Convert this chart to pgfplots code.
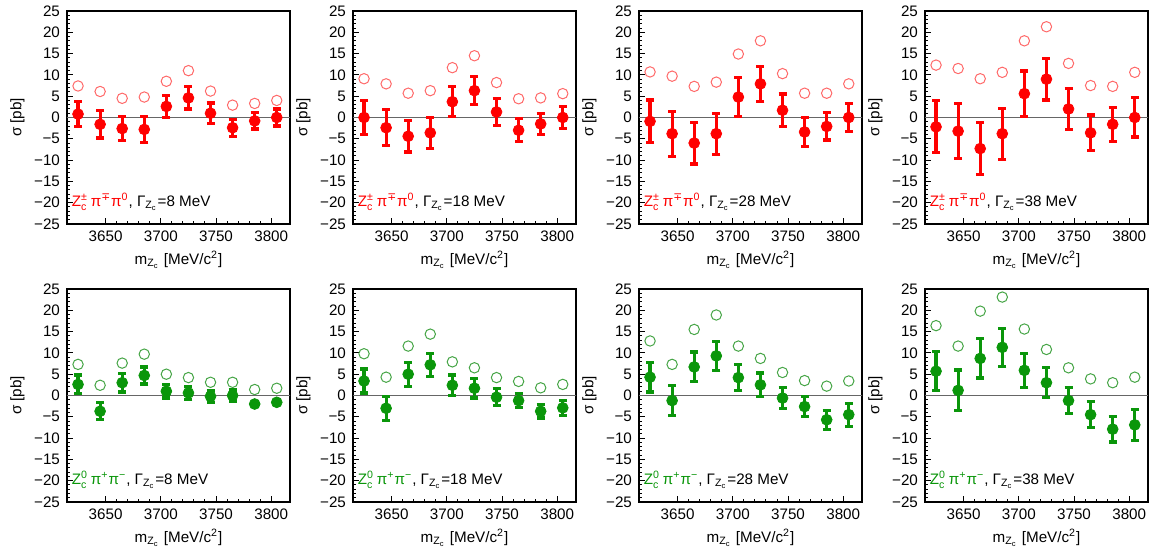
\documentclass[border=0pt]{standalone}
\usepackage{amsmath}
\usepackage{fontspec}
\setmainfont{Liberation Sans}
\newfontfamily\dejavu{DejaVu Sans}
\usepackage{pgfplots}
\usepackage{pgfplotstable}
\pgfplotsset{compat=1.18}
\usepgfplotslibrary{groupplots}

\definecolor{zred}{RGB}{255,0,0}
\definecolor{zredo}{RGB}{255,105,105}
\definecolor{zgreen}{RGB}{10,150,10}
\definecolor{zgreeno}{RGB}{70,165,70}

% columns: mass, sigma, error, upper limit
\pgfplotstableread{
x y e u
3625 0.8 2.9 7.4
3645 -1.6 3.2 6.1
3665 -2.6 2.8 4.5
3685 -2.8 3.0 4.8
3705 2.6 2.6 8.5
3725 4.6 2.6 11.0
3745 1.0 2.4 6.2
3765 -2.4 2.0 2.9
3785 -0.8 1.9 3.3
3805 0.0 2.0 4.0
}\redA
\pgfplotstableread{
x y e u
3625 0.0 4.0 9.1
3645 -2.4 4.2 7.9
3665 -4.4 3.7 5.7
3685 -3.6 3.6 6.3
3705 3.7 3.5 11.7
3725 6.3 3.3 14.5
3745 1.3 3.2 8.2
3765 -3.0 2.7 4.4
3785 -1.5 2.5 4.6
3805 0.0 2.5 5.6
}\redB
\pgfplotstableread{
x y e u
3625 -0.9 5.0 10.7
3645 -3.8 5.3 9.7
3665 -6.0 4.9 7.3
3685 -3.8 4.8 8.3
3705 4.8 4.5 14.9
3725 7.9 4.1 18.0
3745 1.7 3.8 10.3
3765 -3.4 3.4 5.7
3785 -2.1 3.2 5.7
3805 0.0 3.3 7.9
}\redC
\pgfplotstableread{
x y e u
3625 -2.2 6.1 12.3
3645 -3.2 6.5 11.5
3665 -7.3 6.1 9.1
3685 -3.8 6.0 10.6
3705 5.6 5.3 18.0
3725 9.0 4.9 21.3
3745 2.0 4.8 12.7
3765 -3.6 4.2 7.5
3785 -1.6 4.0 7.3
3805 0.0 4.6 10.6
}\redD
\pgfplotstableread{
x y e u
3625 2.6 2.2 7.3
3645 -3.7 2.0 2.4
3665 3.0 2.2 7.6
3685 4.7 2.0 9.7
3705 1.0 1.6 5.0
3725 0.6 1.5 4.2
3745 -0.2 1.4 3.1
3765 0.0 1.3 3.1
3785 -2.0 0.6 1.4
3805 -1.6 0.5 1.7
}\greenA
\pgfplotstableread{
x y e u
3625 3.4 2.8 9.8
3645 -3.0 2.8 4.3
3665 5.0 2.8 11.6
3685 7.2 2.7 14.4
3705 2.4 2.4 7.9
3725 1.7 2.3 6.5
3745 -0.4 2.0 4.2
3765 -1.2 1.7 3.3
3785 -3.7 1.6 1.8
3805 -2.9 1.8 2.6
}\greenB
\pgfplotstableread{
x y e u
3625 4.3 3.5 12.8
3645 -1.2 3.5 7.3
3665 6.7 3.5 15.5
3685 9.3 3.4 18.9
3705 4.2 3.1 11.6
3725 2.5 2.8 8.7
3745 -0.6 2.5 5.4
3765 -2.6 2.3 3.5
3785 -5.7 2.2 2.2
3805 -4.5 2.7 3.4
}\greenC
\pgfplotstableread{
x y e u
3625 5.7 4.6 16.4
3645 1.2 4.8 11.6
3665 8.7 4.6 19.8
3685 11.3 4.5 23.1
3705 5.9 4.0 15.6
3725 3.0 3.5 10.8
3745 -1.2 3.1 6.5
3765 -4.5 3.1 3.9
3785 -7.9 3.0 3.0
3805 -6.9 3.7 4.3
}\greenD

\newcommand{\fnt}{\fontsize{7.6}{9}\selectfont}
\newcommand{\redname}{$\text{Z}^{\text{±}}_{\text{c}}\,\text{π}^{\text{\dejavu ∓}}\text{π}^{\text{0}}$}
\newcommand{\greenname}{$\text{Z}^{\text{0}}_{\text{c}}\,\text{π}^{\text{+}}\text{π}^{\text{−}}$}

% #1 table, #2 colour, #3 open colour, #4 channel, #5 width
\newcommand{\panel}[5]{%
  \addplot[gray!80!black, line width=0.5pt, forget plot] coordinates {(3600,0) (3830,0)};
  \addplot[only marks, mark=o, mark size=2.6pt, mark options={#3, line width=0.5pt}]
    table[x=x, y=u] {#1};
  \addplot[only marks, mark=*, mark size=2.7pt, color=#2, mark options={#2},
    error bars/.cd, y dir=both, y explicit,
    error bar style={line width=1.6pt, #2},
    error mark options={rotate=90, mark size=2pt, line width=1.6pt, #2}]
    table[x=x, y=y, y error=e] {#1};
  \node[anchor=west, font=\fnt, inner sep=0pt] at (axis cs:3619,-19.8)
    {\textcolor{#2}{#4}, $\text{Γ}_{\text{Z}_{\text{c}}}$=#5 MeV};
}

\begin{document}
\begin{tikzpicture}
\begin{groupplot}[
  group style={group size=4 by 2, horizontal sep=31.5pt, vertical sep=32.5pt},
  scale only axis, width=111.5pt, height=106.5pt,
  xmin=3615, xmax=3817, ymin=-25, ymax=25,
  xtick={3650,3700,3750,3800}, xticklabels={3650,3700,3750,3800},
  ytick={-25,-20,...,25},
  yticklabels={−25,−20,−15,−10,−5,0,5,10,15,20,25},
  minor x tick num=4, minor y tick num=4,
  tick align=inside, xtick pos=bottom, ytick pos=left,
  major tick length=3pt, minor tick length=1.6pt,
  axis line style={line width=0.6pt},
  every tick/.style={black, line width=0.5pt},
  tick label style={font=\fnt},
  label style={font=\fnt},
  xlabel={$\text{m}_{\text{Z}_{\text{c}}}$ [MeV/c\textsuperscript{2}]},
  ylabel={σ [pb]},
  xlabel style={yshift=2pt},
  ylabel style={yshift=-2pt},
  clip=true,
]
\nextgroupplot
\panel{\redA}{zred}{zredo}{\redname}{8}
\coordinate (bl) at (rel axis cs:0,0);
\nextgroupplot
\panel{\redB}{zred}{zredo}{\redname}{18}
\nextgroupplot
\panel{\redC}{zred}{zredo}{\redname}{28}
\nextgroupplot
\panel{\redD}{zred}{zredo}{\redname}{38}
\nextgroupplot
\panel{\greenA}{zgreen}{zgreeno}{\greenname}{8}
\nextgroupplot
\panel{\greenB}{zgreen}{zgreeno}{\greenname}{18}
\nextgroupplot
\panel{\greenC}{zgreen}{zgreeno}{\greenname}{28}
\nextgroupplot
\panel{\greenD}{zgreen}{zgreeno}{\greenname}{38}
\end{groupplot}
\pgfresetboundingbox
\path[use as bounding box] ([xshift=-33.5pt,yshift=-162.5pt]bl) rectangle ([xshift=548.5pt,yshift=112pt]bl);
\end{tikzpicture}
\end{document}
